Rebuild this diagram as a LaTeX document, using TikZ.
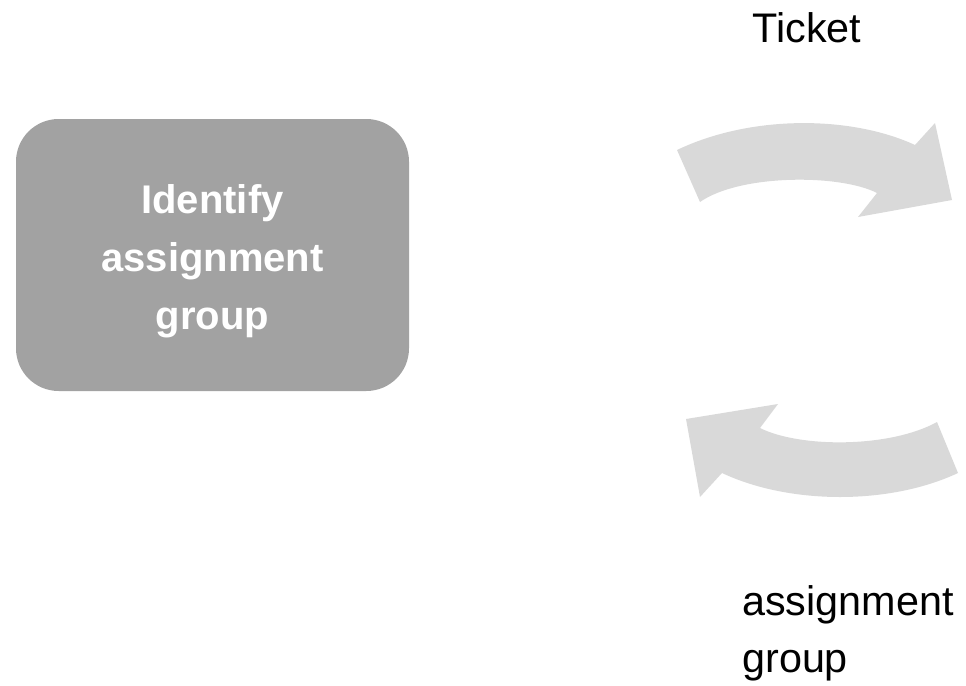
\documentclass[tikz,border=0pt]{standalone}
\usepackage{fontspec}
\setmainfont{Liberation Sans}
\definecolor{boxgrey}{HTML}{A2A2A2}
\definecolor{arrowgrey}{HTML}{D9D9D9}

\begin{document}
\begin{tikzpicture}[x=0.75pt,y=-0.75pt,
    stepbox/.style={fill=boxgrey,rounded corners=32pt,minimum width=294.75pt,minimum height=204pt},
    steptext/.style={text=white,align=center,font=\bfseries\fontsize{30}{43.5}\selectfont},
    label/.style={text=black,font=\fontsize{31}{42.75}\selectfont,inner sep=0pt}]
      \useasboundingbox (0,0) rectangle (966,685);
      \node[stepbox] (identify) at (212.5,255) {};
      \node[steptext] (identifytext) at (212.5,261) {Identify\\assignment\\group};
      \node[label,anchor=base] (ticket) at (807,43) {Ticket};
      \node[label,anchor=base west,align=left] (group) at (742,672) {assignment\\group};
      % bent block arrows on the right
      \fill[arrowgrey] (677,150) .. controls (750,115) and (850,115) .. (915,145)
        -- (935,123) -- (952,200) -- (858,217) -- (877,193)
        .. controls (840,174) and (740,174) .. (700,202) -- cycle;
      \fill[arrowgrey] (937,422) .. controls (890,448) and (800,448) .. (760,428)
        -- (778,404) -- (686,419) -- (700,497) -- (722,473)
        .. controls (790,505) and (890,505) .. (958,473) -- cycle;
    \end{tikzpicture}
\end{document}
